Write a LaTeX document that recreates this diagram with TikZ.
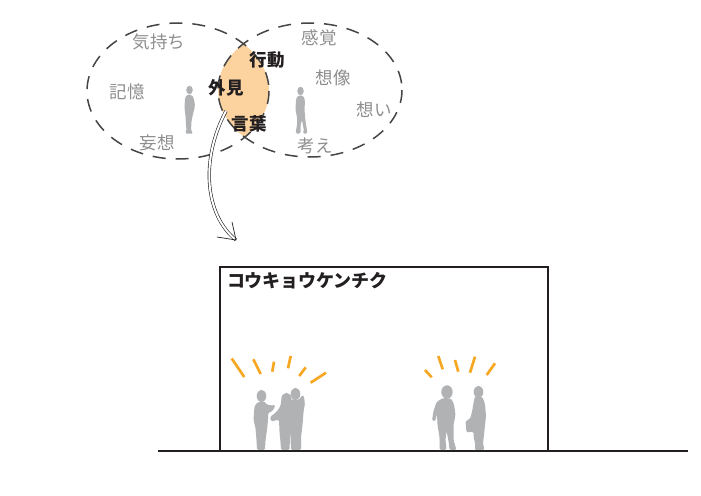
\documentclass[tikz,border=0pt]{standalone}
\usepackage{fontspec}
\newfontfamily\jpfont{Noto Sans CJK JP}
\usetikzlibrary{calc}
\definecolor{inkdark}{HTML}{231F20}
\definecolor{dashgray}{HTML}{454545}
\definecolor{wordgray}{HTML}{8E8E8E}
\definecolor{lensfill}{HTML}{FCD39E}
\definecolor{figgray}{HTML}{B1B2B4}
\definecolor{rayorange}{HTML}{F6A824}
\tikzset{
  mindring/.style={draw=dashgray, line width=1.5pt, dash pattern=on 13pt off 10pt},
  graylabel/.style={text=wordgray, font=\jpfont\fontsize{17.5}{17.5}\selectfont, inner sep=0pt},
  darklabel/.style={text=inkdark, font=\jpfont\bfseries\fontsize{17.5}{17.5}\selectfont, inner sep=0pt},
  titlelabel/.style={text=inkdark, font=\jpfont\bfseries\fontsize{18}{18}\selectfont, inner sep=0pt, anchor=west},
  figure/.style={fill=figgray, rounded corners=1.5pt},
  ray/.style={draw=rayorange, line width=2.7pt},
  wall/.style={draw=inkdark, line width=2.8pt},
  flowline/.style={double, double distance=2pt, line width=0.6pt, draw=inkdark},
  flowtip/.style={draw=inkdark, line width=0.7pt}
}
\begin{document}
\begin{tikzpicture}[x=1pt,y=-1pt]
\useasboundingbox (0,0) rectangle (701,495);

% overlap of the two thought rings
\begin{scope}
  \clip (178,91) ellipse [x radius=91, y radius=68];
  \fill[lensfill] (310,90) ellipse [x radius=92, y radius=67];
\end{scope}
\draw[mindring] (178,91) ellipse [x radius=91, y radius=68];
\draw[mindring] (310,90) ellipse [x radius=92, y radius=67];

% small standing figures inside the rings
\fill[figgray] (189.5,90) ellipse [x radius=3.3, y radius=4.2];
\fill[figure] (187,94.5) -- (185,98) -- (184.5,108) -- (185.5,116) -- (186,124) -- (186.5,131)
  -- (185,133.5) -- (193.5,133.5) -- (191,131) -- (191.5,121) -- (193,114) -- (195,106)
  -- (194,99) -- (192,95) -- cycle;
\fill[figgray] (300.5,91) ellipse [x radius=3.3, y radius=4.2];
\fill[figure] (298,95.5) -- (296,99) -- (295.5,110) -- (297,117) -- (297,125) -- (295.5,133.5)
  -- (300.5,133.5) -- (300.5,125) -- (302,120) -- (304,131) -- (302.5,133.5) -- (307.5,133.5)
  -- (305.5,121) -- (304.5,110) -- (305,100) -- (303,95.5) -- cycle;

% words of the inner and outer self
\node[graylabel] (kimochi) at (159,42) {気持ち};
\node[graylabel] (kioku)   at (127,92) {記憶};
\node[graylabel] (mousou)  at (157,143) {妄想};
\node[graylabel] (kankaku) at (319,38) {感覚};
\node[graylabel] (souzou)  at (333,78) {想像};
\node[graylabel] (omoi)    at (374,110) {想い};
\node[graylabel] (kangae)  at (315,146) {考え};
\node[darklabel] (gaiken)  at (226,88) {外見};
\node[darklabel] (koudou)  at (267,60) {行動};
\node[darklabel] (kotoba)  at (249,124) {言葉};

% hollow arrow down to the building
\coordinate (arrowstart) at (226,111);
\coordinate (arrowtip) at (236,240);
\draw[flowline] (arrowstart) .. controls (200,160) and (205,215) .. (arrowtip);
\draw[flowtip] (arrowtip) ++(-4,-18) -- (arrowtip) -- ++(-19,-3);

% building and ground
\draw[wall] (220,451) -- (220,267) -- (548,267) -- (548,451);
\coordinate (groundwest) at (158,451);
\coordinate (groundeast) at (688,451);
\node[titlelabel] (title) at (227,281) {コウキョウケンチク};

% left group of three
\fill[figgray] (261.5,396) ellipse [x radius=4.8, y radius=6.2];
\fill[figure] (258,402) -- (254.5,406) -- (253.5,420) -- (255.5,428) -- (256.5,440) -- (257,450)
  -- (265,450) -- (265.5,440) -- (267,430) -- (268,420) -- (268,413) -- (272.5,411)
  -- (275.5,405) -- (270,405.5) -- (266,404) -- (264,401) -- cycle;
\fill[figgray] (286.5,399) ellipse [x radius=5.2, y radius=6.2];
\fill[figure] (281.5,399) -- (280.5,406) -- (276.5,412) -- (270,417) -- (271,421.5) -- (279,419.5)
  -- (279.5,432) -- (280.5,442) -- (281,450) -- (289.5,450) -- (290,438) -- (292,425)
  -- (293,412) -- (291.5,405) -- (291.5,399) -- cycle;
\fill[figgray] (295.5,394) ellipse [x radius=4.8, y radius=6.2];
\fill[figure] (291.5,399) -- (289.5,408) -- (289.5,422) -- (290.5,436) -- (291,450) -- (301,450)
  -- (301,438) -- (302.5,425) -- (303.5,412) -- (305,403) -- (303.5,395) -- (300.5,397)
  -- (299,400) -- cycle;

% right pair
\fill[figgray] (447,392) ellipse [x radius=5.7, y radius=6.7];
\fill[figure] (443,398) -- (436.5,402) -- (433.5,411) -- (432,420.5) -- (435,421.5) -- (437,414)
  -- (437.5,425) -- (439.5,437) -- (439.5,450) -- (446.5,450) -- (445.5,440) -- (446.5,431)
  -- (448.5,441) -- (449.5,450) -- (456.5,450) -- (453.5,440) -- (453.5,425) -- (455.5,415)
  -- (454,404) -- (451,398.5) -- cycle;
\fill[figgray] (478.5,392) ellipse [x radius=4.8, y radius=6.2];
\fill[figure] (475,396) -- (473.5,403) -- (472,412) -- (470,419) -- (465.5,421) -- (466.5,432.5)
  -- (473.5,431.5) -- (473.5,437) -- (475.5,445) -- (474.5,450) -- (484.5,450) -- (483,444)
  -- (484.5,430) -- (486,416) -- (485,404) -- (482.5,397) -- cycle;

% bursts of attention above both groups
\draw[ray] (231.7,358.5) -- (244.3,377);
\draw[ray] (253.3,359.3) -- (260.7,374);
\draw[ray] (274,361.7) -- (272.3,371.7);
\draw[ray] (290.7,356) -- (288,368.3);
\draw[ray] (305.7,367.3) -- (299.3,376);
\draw[ray] (326,372.7) -- (310.7,382.7);
\draw[ray] (425,370) -- (431.7,377.3);
\draw[ray] (438.3,356) -- (442.7,369.3);
\draw[ray] (455,360) -- (458.3,371.7);
\draw[ray] (475,356.7) -- (470,372.7);
\draw[ray] (495,363.3) -- (486.7,375);

\draw[wall] (groundwest) -- (groundeast);
\end{tikzpicture}
\end{document}
